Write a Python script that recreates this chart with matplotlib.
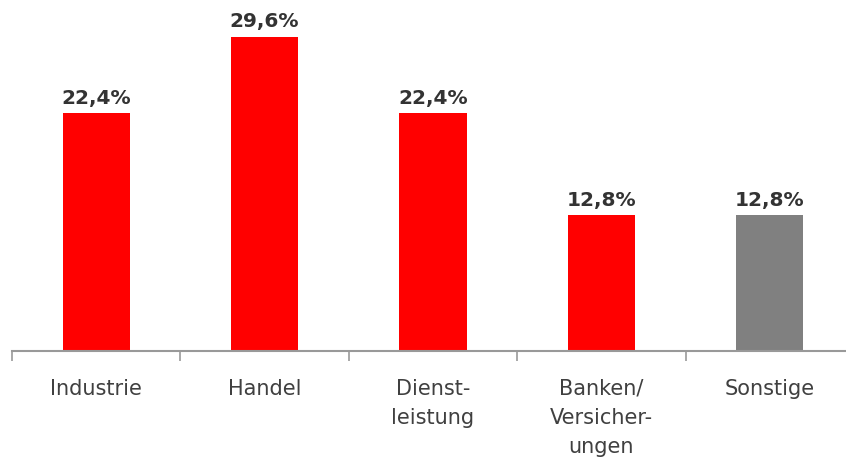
import matplotlib
matplotlib.use("Agg")
import matplotlib.pyplot as plt
import numpy as np

categories = ["Industrie", "Handel", "Dienst-\nleistung", "Banken/\nVersicher-\nungen", "Sonstige"]
values = [22.4, 29.6, 22.4, 12.8, 12.8]
value_labels = ["22,4%", "29,6%", "22,4%", "12,8%", "12,8%"]
colors = ["#FF0000", "#FF0000", "#FF0000", "#FF0000", "#808080"]

W, H = 846, 461
fig = plt.figure(figsize=(W / 100, H / 100), dpi=100)
ax = fig.add_axes([12 / W, 110 / H, 842 / W, 351 / H])

x = np.arange(len(categories))
ax.bar(x, values, width=0.4, color=colors, zorder=2)

ax.set_xlim(-0.5, len(categories) - 0.5)
ax.set_ylim(0, 33.05)

for xi, v, lab in zip(x, values, value_labels):
    ax.annotate(lab, (xi, v), xytext=(0, 4), textcoords="offset points",
                ha="center", va="bottom", fontsize=14.5, fontweight="bold",
                color="#333333", family="DejaVu Sans")

for s in ["left", "right", "top"]:
    ax.spines[s].set_visible(False)
ax.spines["bottom"].set_color("#999999")
ax.spines["bottom"].set_linewidth(1.5)
ax.set_yticks([])

ax.set_xticks(x)
ax.set_xticklabels(categories, fontsize=15, color="#404040", linespacing=1.57,
                   family="DejaVu Sans", va="top")
ax.tick_params(axis="x", which="major", length=0, pad=20)
ax.set_xticks(np.arange(-0.5, len(categories), 1.0), minor=True)
ax.tick_params(axis="x", which="minor", length=7, width=1.2, color="#999999")

fig.savefig("out.png", dpi=100)
